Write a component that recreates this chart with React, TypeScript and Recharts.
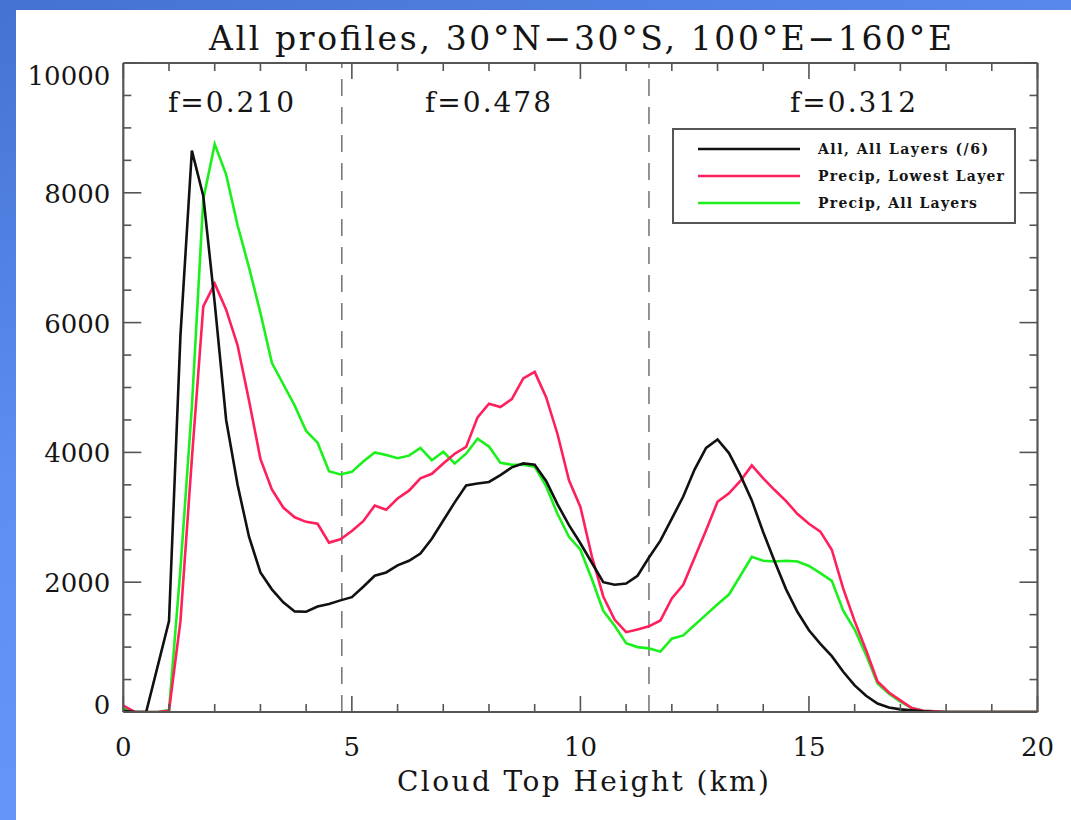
import React from 'react';
import { LineChart, Line, XAxis, YAxis, ReferenceLine } from 'recharts';

// Cloud top height (km)
const heightKm = [
  0, 0.25, 0.5, 0.75, 1, 1.25, 1.5, 1.75, 2, 2.25, 2.5, 2.75, 3, 3.25, 3.5, 3.75,
  4, 4.25, 4.5, 4.75, 5, 5.25, 5.5, 5.75, 6, 6.25, 6.5, 6.75, 7, 7.25, 7.5, 7.75,
  8, 8.25, 8.5, 8.75, 9, 9.25, 9.5, 9.75, 10, 10.25, 10.5, 10.75, 11, 11.25, 11.5, 11.75,
  12, 12.25, 12.5, 12.75, 13, 13.25, 13.5, 13.75, 14, 14.25, 14.5, 14.75, 15, 15.25, 15.5, 15.75,
  16, 16.25, 16.5, 16.75, 17, 17.25, 17.5, 17.75, 18, 18.25, 18.5, 18.75, 19, 19.25, 19.5, 19.75, 20,
];

// All, All Layers (/6)
const allLayers = [
  20, 0, 0, 700, 1400, 5800, 8650, 7950, 6300, 4500, 3500, 2700, 2150, 1890, 1690, 1550,
  1545, 1625, 1665, 1720, 1770, 1930, 2100, 2150, 2260, 2330, 2440, 2670, 2950, 3230, 3490, 3520,
  3545, 3650, 3770, 3830, 3810, 3560, 3200, 2880, 2600, 2300, 2000, 1960, 1980, 2100, 2380, 2640,
  2980, 3320, 3740, 4070, 4200, 3990, 3650, 3260, 2770, 2320, 1890, 1540, 1260, 1050, 860, 620,
  410, 250, 130, 70, 40, 25, 10, 0, 0, 0, 0, 0, 0, 0, 0, 0, 0,
];

// Precip, Lowest Layer
const precipLowest = [
  100, 0, 0, 0, 20, 1400, 3900, 6250, 6600, 6200, 5650, 4800, 3900, 3430, 3150, 3000,
  2930, 2900, 2610, 2660, 2790, 2940, 3180, 3115, 3290, 3410, 3600, 3670, 3830, 3980, 4085, 4540,
  4750, 4700, 4820, 5140, 5240, 4850, 4280, 3570, 3160, 2400, 1780, 1420, 1230, 1270, 1320, 1410,
  1750, 1960, 2380, 2800, 3240, 3370, 3560, 3800, 3600, 3420, 3250, 3050, 2900, 2780, 2500, 1900,
  1400, 950, 470, 300, 180, 60, 20, 10, 0, 0, 0, 0, 0, 0, 0, 0, 0,
];

// Precip, All Layers
const precipAll = [
  60, 0, 0, 0, 30, 2200, 4700, 7900, 8750, 8280, 7500, 6850, 6150, 5380, 5050, 4720,
  4330, 4150, 3710, 3660, 3700, 3860, 4000, 3960, 3910, 3950, 4070, 3880, 4010, 3830, 3980, 4210,
  4090, 3840, 3810, 3810, 3780, 3480, 3050, 2700, 2500, 2050, 1560, 1330, 1060, 1000, 980, 930,
  1130, 1180, 1340, 1500, 1660, 1810, 2100, 2390, 2330, 2320, 2330, 2320, 2250, 2140, 2020, 1560,
  1270, 880, 440, 280, 160, 60, 20, 10, 0, 0, 0, 0, 0, 0, 0, 0, 0,
];

const seriesNames = ['All, All Layers (/6)', 'Precip, Lowest Layer', 'Precip, All Layers'];
const seriesColors = ['#111111', '#ff1f5c', '#1cf01c'];
const legendTextWidths = [170, 186, 159];

const xTicks = [0, 1, 2, 3, 4, 5, 6, 7, 8, 9, 10, 11, 12, 13, 14, 15, 16, 17, 18, 19, 20];
const yTicks = [0, 500, 1000, 1500, 2000, 2500, 3000, 3500, 4000, 4500, 5000, 5500, 6000, 6500, 7000, 7500, 8000, 8500, 9000, 9500, 10000];

const regionBounds = [4.78, 11.5];
const regionLabels = ['f=0.210', 'f=0.478', 'f=0.312'];

const titleText = 'All profiles, 30°N−30°S, 100°E−160°E';
const xTitle = 'Cloud Top Height (km)';

const data = heightKm.map((h, i) => ({
  h,
  all: allLayers[i],
  low: precipLowest[i],
  pall: precipAll[i],
}));

const AXIS = '#555';
const FONT = '"DejaVu Serif", "Liberation Serif", serif';
const TXT = '#151515';

const BottomTick = (props: any) => {
  const { x, y, payload } = props;
  const v = payload.value;
  const major = v % 5 === 0;
  return (
    <g>
      <line x1={x} y1={y} x2={x} y2={y - (major ? 16 : 8)} stroke={AXIS} strokeWidth={1.6} />
      {major && (
        <text x={x} y={y + 44} textAnchor="middle" fontFamily={FONT} fontSize={26} fill={TXT}>
          {v}
        </text>
      )}
    </g>
  );
};

const TopTick = (props: any) => {
  const { x, y, payload } = props;
  const v = payload.value;
  const major = v % 5 === 0;
  return <line x1={x} y1={y} x2={x} y2={y + (major ? 16 : 8)} stroke={AXIS} strokeWidth={1.6} />;
};

const LeftTick = (props: any) => {
  const { x, y, payload } = props;
  const v = payload.value;
  const major = v % 2000 === 0;
  let dy = 10;
  if (v === 10000) dy = 22;
  if (v === 0) dy = 2;
  return (
    <g>
      <line x1={x} y1={y} x2={x + (major ? 18 : 8)} y2={y} stroke={AXIS} strokeWidth={1.6} />
      {major && (
        <text x={x - 13} y={y + dy} textAnchor="end" fontFamily={FONT} fontSize={26} fill={TXT}>
          {v}
        </text>
      )}
    </g>
  );
};

const RightTick = (props: any) => {
  const { x, y, payload } = props;
  const v = payload.value;
  const major = v % 2000 === 0;
  return <line x1={x} y1={y} x2={x - (major ? 18 : 8)} y2={y} stroke={AXIS} strokeWidth={1.6} />;
};

export default function App() {
  return (
    <div
      style={{
        position: 'absolute',
        left: 0,
        top: 0,
        width: 1071,
        height: 820,
        overflow: 'hidden',
        background: 'linear-gradient(160deg, #4372d2 0%, #5d8ef0 40%, #6d9eff 100%)',
      }}
    >
      <div style={{ position: 'absolute', left: 16, top: 10, right: 0, bottom: 0, background: '#fff' }} />
      <div style={{ position: 'absolute', left: 0, top: 0 }}>
        <LineChart
          width={1071}
          height={820}
          data={data}
          margin={{ top: 43, right: 13.5, left: 63.3, bottom: 48 }}
        >
          <XAxis
            xAxisId="b"
            dataKey="h"
            type="number"
            domain={[0, 20]}
            ticks={xTicks}
            interval={0}
            allowDataOverflow
            height={60}
            tickSize={0}
            tickMargin={0}
            tickLine={false}
            axisLine={{ stroke: AXIS, strokeWidth: 2.2 }}
            tick={<BottomTick />}
          />
          <XAxis
            xAxisId="t"
            orientation="top"
            dataKey="h"
            type="number"
            domain={[0, 20]}
            ticks={xTicks}
            interval={0}
            allowDataOverflow
            height={20}
            tickSize={0}
            tickMargin={0}
            tickLine={false}
            axisLine={{ stroke: AXIS, strokeWidth: 2.2 }}
            tick={<TopTick />}
          />
          <YAxis
            yAxisId="l"
            type="number"
            domain={[0, 10000]}
            ticks={yTicks}
            interval={0}
            allowDataOverflow
            width={60}
            tickSize={0}
            tickMargin={0}
            tickLine={false}
            axisLine={{ stroke: AXIS, strokeWidth: 2.2 }}
            tick={<LeftTick />}
          />
          <YAxis
            yAxisId="r"
            orientation="right"
            type="number"
            domain={[0, 10000]}
            ticks={yTicks}
            interval={0}
            allowDataOverflow
            width={20}
            tickSize={0}
            tickMargin={0}
            tickLine={false}
            axisLine={{ stroke: AXIS, strokeWidth: 2.2 }}
            tick={<RightTick />}
          />
          {regionBounds.map((b) => (
            <ReferenceLine
              key={b}
              x={b}
              xAxisId="b"
              yAxisId="l"
              stroke="#7a7a7a"
              strokeWidth={1.6}
              strokeDasharray="17 11"
            />
          ))}
          <Line
            xAxisId="b"
            yAxisId="l"
            dataKey="pall"
            name={seriesNames[2]}
            stroke={seriesColors[2]}
            strokeWidth={2.6}
            dot={false}
            type="linear"
            isAnimationActive={false}
          />
          <Line
            xAxisId="b"
            yAxisId="l"
            dataKey="low"
            name={seriesNames[1]}
            stroke={seriesColors[1]}
            strokeWidth={2.6}
            dot={false}
            type="linear"
            isAnimationActive={false}
          />
          <Line
            xAxisId="b"
            yAxisId="l"
            dataKey="all"
            name={seriesNames[0]}
            stroke={seriesColors[0]}
            strokeWidth={2.6}
            dot={false}
            type="linear"
            isAnimationActive={false}
          />
        </LineChart>
      </div>
      <svg
        width={1071}
        height={820}
        style={{ position: 'absolute', left: 0, top: 0, pointerEvents: 'none' }}
      >
        <text
          x={580.5}
          y={50}
          textAnchor="middle"
          fontFamily={FONT}
          fontSize={33}
          fill={TXT}
          textLength={743}
        >
          {titleText}
        </text>
        <text x={583} y={791} textAnchor="middle" fontFamily={FONT} fontSize={28} fill={TXT} textLength={372}>
          {xTitle}
        </text>
        {regionLabels.map((l, i) => (
          <text
            key={l}
            x={[231, 488, 853][i]}
            y={112}
            textAnchor="middle"
            fontFamily={FONT}
            fontSize={28}
            fill={TXT}
            textLength={126}
          >
            {l}
          </text>
        ))}
        <rect x={673} y={129} width={342} height={94} fill="#fff" stroke="#555" strokeWidth={2} />
        {seriesNames.map((n, i) => (
          <g key={n}>
            <line x1={698} x2={800} y1={149 + i * 27} y2={149 + i * 27} stroke={seriesColors[i]} strokeWidth={2.6} />
            <text
              x={818}
              y={154 + i * 27}
              fontFamily={FONT}
              fontWeight="bold"
              fontSize={14}
              fill={TXT}
              textLength={legendTextWidths[i]}
            >
              {n}
            </text>
          </g>
        ))}
      </svg>
    </div>
  );
}
